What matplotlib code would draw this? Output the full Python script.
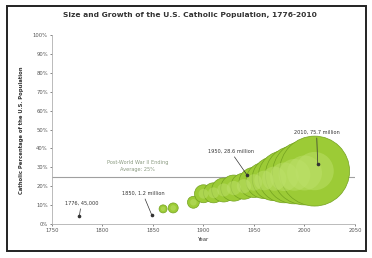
import numpy as np
import matplotlib
matplotlib.use("Agg")
import matplotlib.pyplot as plt
from matplotlib.patches import Rectangle

# ── Data ──────────────────────────────────────────────────────────────────────
YEARS   = [1860, 1870, 1890, 1900, 1910, 1920, 1930, 1940, 1950, 1960, 1970, 1980, 1990, 2000, 2010]
PCT     = [8.0, 8.5, 11.5, 16.0, 16.5, 18.0, 19.0, 20.0, 22.0, 23.0, 24.0, 25.0, 26.0, 27.0, 28.0]
POP_MIL = [1.0, 1.55, 2.2, 5.0, 6.2, 8.9, 10.5, 10.5, 14.0, 20.0, 30.0, 42.0, 52.0, 63.0, 75.7]

AVG_PCT   = 25
AVG_LABEL = "Post-World War II Ending\nAverage: 25%"

# callouts: (text, text_year, text_pct, point_year, point_pct)
CALLOUTS = [
    ("1776, 45,000",       1779, 9.5,  1777, 4.0),
    ("1850, 1.2 million",  1840, 14.7, 1849, 4.5),
    ("1950, 28.6 million", 1927, 37.0, 1943, 26.0),
    ("2010, 75.7 million", 2012, 47.0, 2013, 32.0),
]

X_TICKS = [1750, 1800, 1850, 1900, 1950, 2000, 2050]
Y_TICKS = list(range(0, 101, 10))

# ── Figure ────────────────────────────────────────────────────────────────────
fig = plt.figure(figsize=(3.72, 2.58), dpi=100)
fig.patches.append(Rectangle((7 / 372, 1 - 251 / 258), 359 / 372, 245 / 258,
                             transform=fig.transFigure, fill=False,
                             edgecolor="#222222", linewidth=1.4))

ax = fig.add_axes([52 / 372, 34 / 258, 303 / 372, 189 / 258])

sizes = np.array(POP_MIL) * 33.5
ax.scatter(YEARS, PCT, s=sizes, color="#9ccb36", edgecolors="#74a220",
           linewidths=0.5, zorder=3)
ax.scatter(YEARS, PCT, s=sizes * 0.3, color="#bde06a", edgecolors="none",
           alpha=0.5, zorder=3)

ax.axhline(AVG_PCT, color="#a0a0a0", linewidth=0.8, zorder=2)
ax.text(1835, 30.5, AVG_LABEL, ha="center", va="center", fontsize=3.6,
        color="#8a9a80", linespacing=1.5)

for label, tx, ty, px, py in CALLOUTS:
    ax.annotate(label, xy=(px, py), xytext=(tx, ty), ha="center", va="bottom",
                fontsize=3.6, color="#333333", zorder=5,
                arrowprops=dict(arrowstyle="-", color="#333333", lw=0.5,
                                shrinkA=0, shrinkB=0))
    ax.plot(px, py, "o", color="#333333", markersize=1.6, zorder=6)

ax.set_xlim(1750, 2050)
ax.set_ylim(0, 100)
ax.set_xticks(X_TICKS)
ax.set_yticks(Y_TICKS)
ax.set_yticklabels([f"{v}%" for v in Y_TICKS])
ax.tick_params(labelsize=3.8, colors="#555555", length=1.5, width=0.5, pad=1.5)
ax.grid(False)
for side in ["top", "right"]:
    ax.spines[side].set_visible(False)
for side in ["left", "bottom"]:
    ax.spines[side].set_color("#b0b0b0")
    ax.spines[side].set_linewidth(0.6)

ax.set_xlabel("Year", fontsize=3.8, color="#333333", labelpad=3)
fig.text(22 / 372, 1 - 130 / 258, "Catholic Percentage of the U.S. Population",
         rotation=90, ha="center", va="center", fontsize=3.8,
         fontweight="bold", color="#333333")
fig.text(190 / 372, 1 - 15 / 258,
         "Size and Growth of the U.S. Catholic Population, 1776-2010",
         ha="center", va="center", fontsize=5.4, fontweight="bold",
         color="#333333")

fig.savefig("out.png", dpi=100)
